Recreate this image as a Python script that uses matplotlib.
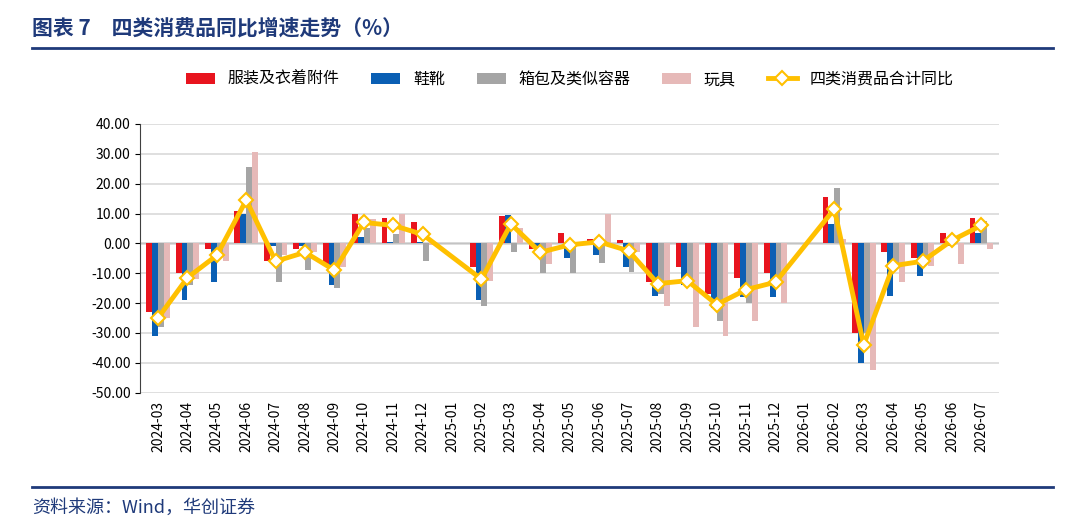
import numpy as np
import matplotlib.pyplot as plt
from matplotlib.lines import Line2D

plt.rcParams['font.family'] = ['Noto Sans CJK SC', 'DejaVu Sans']

months = ['2024-03', '2024-04', '2024-05', '2024-06', '2024-07', '2024-08', '2024-09',
          '2024-10', '2024-11', '2024-12', '2025-01', '2025-02', '2025-03', '2025-04',
          '2025-05', '2025-06', '2025-07', '2025-08', '2025-09', '2025-10', '2025-11',
          '2025-12', '2026-01', '2026-02', '2026-03', '2026-04', '2026-05', '2026-06', '2026-07']
nan = np.nan
apparel = [-23, -10, -2, 11, -6, -2, -7, 10, 8.5, 7, nan, -8, 9, -2, 3.5, 1.5, 1,
           -13, -8, -17, -11.5, -10, nan, 15.5, -30, -3, -5, 3.5, 8.5]
shoes = [-31, -19, -13, 10, -1, -1, -14, 2, 0.5, 0.5, nan, -19, 9.5, -1, -5, -4, -8,
         -17.5, -14, -21.5, -18, -18, nan, 6.5, -40, -17.5, -11, -1, 3.5]
bags = [-28, -14, -4, 25.5, -13, -9, -15, 5, 3, -6, nan, -21, -3, -10, -10, -6.5, -9.5,
        -17, -13, -26, -20, -13, nan, 18.5, -30, -8, -6, 0.5, 7.5]
toys = [-25, -12, -6, 30.5, -4, -3, -8, 8, 10, -0.5, nan, -12.5, 5, -7, -1, 10, -3,
        -21, -28, -31, -26, -20, nan, 1.5, -42.5, -13, -7.5, -7, -2]
total = [-25, -11.5, -4, 14.5, -6, -3, -9, 7, 6, 3, nan, -12, 6.5, -3, -0.5, 0.5, -2.5,
         -13.5, -12.5, -20.5, -15.5, -13, nan, 11.5, -34, -7.5, -6, 1, 6]

names = ['服装及衣着附件', '鞋靴', '箱包及类似容器', '玩具']
colors = ['#E8141E', '#0A5FB4', '#A5A5A5', '#E6B9B8']
series = [apparel, shoes, bags, toys]
navy = '#1F3A7A'

fig = plt.figure(figsize=(10.8, 5.32), dpi=100)
fig.text(0.03, 0.948, '图表 7　四类消费品同比增速走势（%）', fontsize=15, fontweight='bold', color=navy, va='center')
fig.add_artist(Line2D([0.03, 0.975], [0.91, 0.91], color=navy, lw=2))
fig.add_artist(Line2D([0.03, 0.975], [0.085, 0.085], color=navy, lw=2))
fig.text(0.03, 0.045, '资料来源：Wind，华创证券', fontsize=13, style='italic', color=navy, va='center')

ax = fig.add_axes([0.13, 0.262, 0.795, 0.505])
x = np.arange(len(months))
w = 0.2
handles = []
for i, (s, c, n) in enumerate(zip(series, colors, names)):
    handles.append(ax.bar(x + (i - 1.5) * w, s, w, color=c, label=n, zorder=2))

t = np.array(total, dtype=float)
ok = ~np.isnan(t)
ln, = ax.plot(x[ok], t[ok], color='#FFC000', lw=3.5, marker='D', ms=7, mfc='white',
              mec='#FFC000', mew=1.5, label='四类消费品合计同比', zorder=3)
handles.append(ln)

ax.set_ylim(-50, 40)
ax.set_yticks(np.arange(-50, 41, 10))
ax.set_yticklabels(['%.2f' % v for v in np.arange(-50, 41, 10)], fontsize=10)
ax.set_xlim(-0.6, len(months) - 0.4)
ax.set_xticks(x)
ax.set_xticklabels(months, rotation=90, fontsize=10)
ax.tick_params(axis='x', length=0, pad=6)
ax.grid(axis='y', color='#D9D9D9', lw=1.2, zorder=0)
ax.axhline(0, color='#595959', lw=1, zorder=1)
for sp in ['top', 'right', 'bottom']:
    ax.spines[sp].set_visible(False)
ax.spines['left'].set_color('#404040')

ax.legend(handles=handles, loc='lower center', bbox_to_anchor=(0.5, 1.08), ncol=5, frameon=False,
          fontsize=11.5, handlelength=1.8, columnspacing=2.0)

fig.savefig('out.png')
